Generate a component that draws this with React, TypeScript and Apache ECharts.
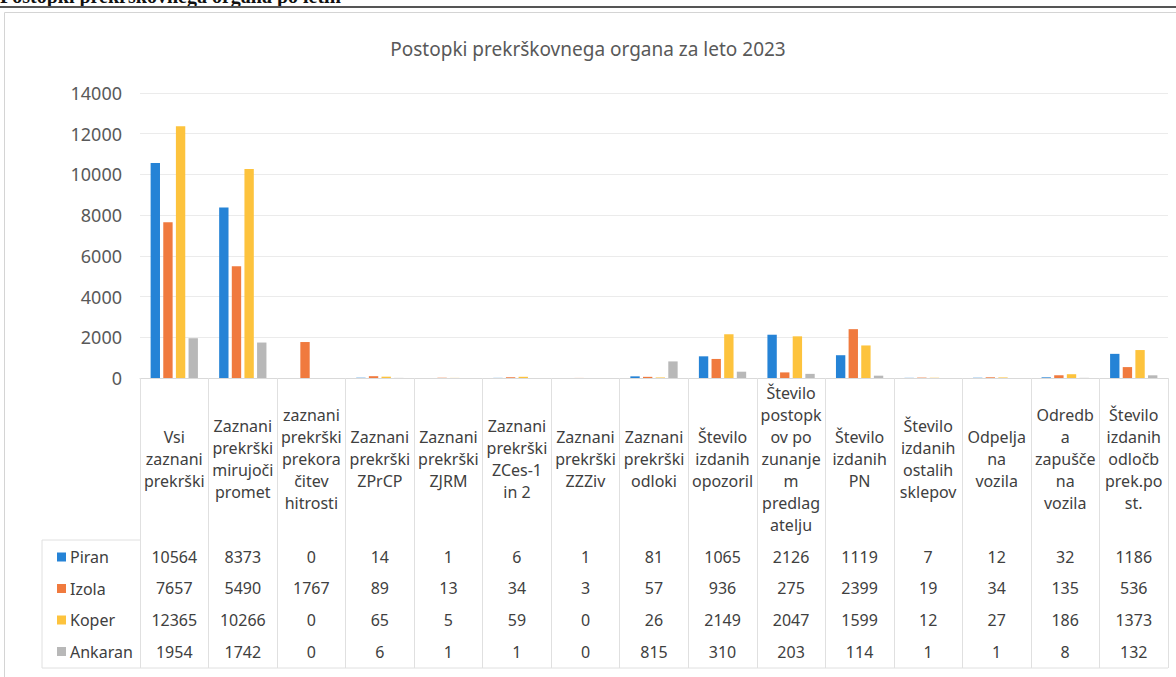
import React, { useEffect, useRef } from 'react';
import * as echarts from 'echarts';

const titleText = 'Postopki prekrškovnega organa za leto 2023';
const pageHeader = 'Postopki prekrškovnega organa po letih';

const categories = [
  'Vsi\nzaznani\nprekrški',
  'Zaznani\nprekrški\nmirujoči\npromet',
  'zaznani\nprekrški\nprekora\nčitev\nhitrosti',
  'Zaznani\nprekrški\nZPrCP',
  'Zaznani\nprekrški\nZJRM',
  'Zaznani\nprekrški\nZCes-1\nin 2',
  'Zaznani\nprekrški\nZZZiv',
  'Zaznani\nprekrški\nodloki',
  'Število\nizdanih\nopozoril',
  'Število\npostopk\nov po\nzunanje\nm\npredlag\natelju',
  'Število\nizdanih\nPN',
  'Število\nizdanih\nostalih\nsklepov',
  'Odpelja\nna\nvozila',
  'Odredb\na\nzapušče\nna\nvozila',
  'Število\nizdanih\nodločb\nprek.po\nst.',
];

const seriesNames = ['Piran', 'Izola', 'Koper', 'Ankaran'];
const piran = [10564, 8373, 0, 14, 1, 6, 1, 81, 1065, 2126, 1119, 7, 12, 32, 1186];
const izola = [7657, 5490, 1767, 89, 13, 34, 3, 57, 936, 275, 2399, 19, 34, 135, 536];
const koper = [12365, 10266, 0, 65, 5, 59, 0, 26, 2149, 2047, 1599, 12, 27, 186, 1373];
const ankaran = [1954, 1742, 0, 6, 1, 1, 0, 815, 310, 203, 114, 1, 1, 8, 132];
const seriesColors = ['#2583d6', '#f07a3e', '#fdc33d', '#b8b8b8'];

const yMin = 0;
const yMax = 14000;
const yInterval = 2000;

export default function App() {
  const ref = useRef<HTMLDivElement>(null);

  useEffect(() => {
    document.body.style.margin = '0';
    if (!ref.current) return;
    const chart = echarts.init(ref.current, null, { renderer: 'svg' });

    const W = 1176;
    const gridLeft = 140;
    const gridRight = 8;
    const gridTop = 93;
    const gridBottom = 299;
    const axisY = 677 - gridBottom;
    const font = 'Noto Sans';
    const allValues = [piran, izola, koper, ankaran];
    const rowY = [557, 588, 620, 652];
    const headerCenter = 459;
    const tableBottom = 668;
    const legendTop = 540;
    const legendLeft = 42;
    const lineColor = '#e0e0e0';

    const rowAxes = allValues.map((vals, k) => ({
      type: 'category',
      gridIndex: 0,
      position: 'bottom',
      data: categories,
      axisLine: { show: false },
      axisTick: { show: false },
      splitLine: { show: false },
      axisLabel: {
        interval: 0,
        margin: rowY[k] - axisY,
        verticalAlign: 'middle',
        fontFamily: font,
        fontSize: 16,
        color: '#404040',
        formatter: (_v: string, i: number) => String(vals[i]),
      },
    }));

    const option: any = {
      animation: false,
      backgroundColor: '#ffffff',
      title: {
        text: titleText,
        left: 'center',
        top: 34,
        textStyle: { fontFamily: font, fontSize: 19, fontWeight: 'normal', color: '#595959' },
      },
      legend: {
        orient: 'vertical',
        left: 57,
        top: 547,
        padding: 0,
        itemWidth: 9,
        itemHeight: 9,
        itemGap: 11.5,
        icon: 'rect',
        data: seriesNames,
        textStyle: { fontFamily: font, fontSize: 16, color: '#404040', lineHeight: 20, padding: [0, 0, 0, -1] },
      },
      grid: { left: gridLeft, right: gridRight, top: gridTop, bottom: gridBottom, containLabel: false },
      xAxis: [
        {
          type: 'category',
          data: categories,
          axisLine: { show: true, lineStyle: { color: '#d9d9d9' } },
          axisTick: { show: true, length: tableBottom - axisY, lineStyle: { color: lineColor } },
          axisLabel: {
            interval: 0,
            margin: headerCenter - axisY,
            verticalAlign: 'middle',
            align: 'center',
            fontFamily: font,
            fontSize: 16,
            lineHeight: 22,
            color: '#404040',
          },
        },
        ...rowAxes,
      ],
      yAxis: {
        type: 'value',
        min: yMin,
        max: yMax,
        interval: yInterval,
        axisLine: { show: false },
        axisTick: { show: false },
        splitLine: { lineStyle: { color: '#ebebeb' } },
        axisLabel: {
          margin: 18,
          fontFamily: font,
          fontSize: 18,
          color: '#595959',
          formatter: (v: number) => String(v),
        },
      },
      series: allValues.map((vals, k) => ({
        name: seriesNames[k],
        type: 'bar',
        xAxisIndex: 0,
        data: vals,
        barGap: '35%',
        barCategoryGap: '31%',
        itemStyle: { color: seriesColors[k] },
      })),
      graphic: [
        {
          type: 'text',
          left: 0,
          top: -14,
          style: {
            text: pageHeader,
            fontFamily: 'Liberation Serif',
            fontWeight: 'bold',
            fontSize: 20,
            fill: '#111',
          },
          z: 1,
        },
        {
          type: 'line',
          shape: { x1: 0, y1: 7, x2: W, y2: 7 },
          style: { stroke: '#555', lineWidth: 2 },
          z: 5,
        },
        {
          type: 'line',
          shape: { x1: 4.5, y1: 12.5, x2: W, y2: 12.5 },
          style: { stroke: '#d4d4d4', lineWidth: 1 },
        },
        {
          type: 'line',
          shape: { x1: 4.5, y1: 12.5, x2: 4.5, y2: 677 },
          style: { stroke: '#d4d4d4', lineWidth: 1 },
        },
        {
          type: 'line',
          shape: { x1: legendLeft, y1: legendTop, x2: gridLeft, y2: legendTop },
          style: { stroke: lineColor, lineWidth: 1 },
        },
        {
          type: 'line',
          shape: { x1: legendLeft, y1: legendTop, x2: legendLeft, y2: tableBottom },
          style: { stroke: lineColor, lineWidth: 1 },
        },
        {
          type: 'line',
          shape: { x1: legendLeft, y1: tableBottom, x2: W - gridRight, y2: tableBottom },
          style: { stroke: lineColor, lineWidth: 1 },
        },
      ],
    };

    chart.setOption(option);
    return () => chart.dispose();
  }, []);

  return <div ref={ref} style={{ width: 1176, height: 677 }} />;
}
